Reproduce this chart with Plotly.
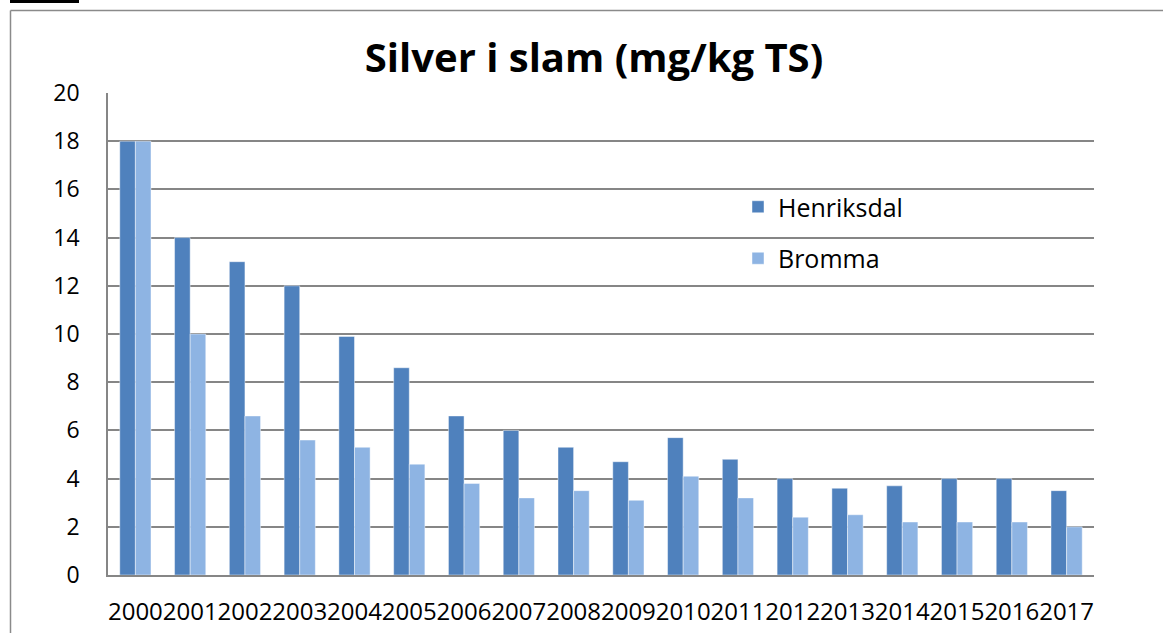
import plotly.graph_objects as go

years = [str(y) for y in range(2000, 2018)]
henriksdal = [18, 14, 13, 12, 9.9, 8.6, 6.6, 6.0, 5.3, 4.7, 5.7, 4.8, 4.0, 3.6, 3.7, 4.0, 4.0, 3.5]
bromma = [18, 10, 6.6, 5.6, 5.3, 4.6, 3.8, 3.2, 3.5, 3.1, 4.1, 3.2, 2.4, 2.5, 2.2, 2.2, 2.2, 2.0]
y_ticks = [0, 2, 4, 6, 8, 10, 12, 14, 16, 18, 20]

W, H = 1163, 633
ML, MR, MT, MB = 108, 69, 93, 58
PW = W - ML - MR
PH = H - MT - MB

FONT = "Open Sans"

fig = go.Figure()
fig.add_trace(go.Bar(x=years, y=henriksdal, name="Henriksdal",
                     marker=dict(color="#4F81BD", line=dict(color="rgba(255,255,255,0.45)", width=1)),
                     legendgroup="a"))
fig.add_trace(go.Bar(x=years, y=bromma, name="Bromma",
                     marker=dict(color="#8EB4E3", line=dict(color="rgba(255,255,255,0.45)", width=1)),
                     legendgroup="b"))

def px_to_paper_x(px):
    return (px - ML) / PW

def px_to_paper_y(py):
    return (H - MB - py) / PH

shapes = [
    # chart area border (left and top)
    dict(type="line", xref="paper", yref="paper",
         x0=px_to_paper_x(10.5), x1=px_to_paper_x(10.5), y0=px_to_paper_y(10.5), y1=px_to_paper_y(640),
         line=dict(color="#8a8a8a", width=1.5)),
    dict(type="line", xref="paper", yref="paper",
         x0=px_to_paper_x(10.5), x1=px_to_paper_x(1170), y0=px_to_paper_y(10.5), y1=px_to_paper_y(10.5),
         line=dict(color="#8a8a8a", width=1.5)),
    # small black line top-left
    dict(type="rect", xref="paper", yref="paper",
         x0=px_to_paper_x(10), x1=px_to_paper_x(79), y0=px_to_paper_y(0), y1=px_to_paper_y(3),
         fillcolor="black", line=dict(width=0)),
]

fig.update_layout(
    width=W, height=H,
    margin=dict(l=ML, r=MR, t=MT, b=MB, autoexpand=False),
    paper_bgcolor="white", plot_bgcolor="white",
    barmode="group", bargap=0.43, bargroupgap=0,
    font=dict(family=FONT, size=22, color="black"),
    title=dict(text="<b>Silver i slam (mg/kg TS)</b>", font=dict(family=FONT, size=40, color="black"),
               x=px_to_paper_x(594), xref="paper", xanchor="center",
               y=1 - 58 / H, yref="container", yanchor="middle"),
    legend=dict(x=px_to_paper_x(738), y=px_to_paper_y(184), xanchor="left", yanchor="top",
                bgcolor="rgba(0,0,0,0)", font=dict(family=FONT, size=25),
                tracegroupgap=16, traceorder="grouped"),
    shapes=shapes,
    showlegend=True,
)
fig.update_yaxes(range=[0, 20], tickvals=y_ticks, showgrid=True, gridcolor="#868686", gridwidth=1.6,
                 showline=True, linecolor="#868686", linewidth=1.6, ticks="", zeroline=False,
                 ticklabelstandoff=22, tickfont=dict(size=23), fixedrange=True, automargin=False)
fig.update_xaxes(type="category", tickangle=0, showline=True, linecolor="#868686", linewidth=1.6,
                 ticks="", showgrid=False, ticklabelstandoff=14, tickfont=dict(size=24), fixedrange=True,
                 automargin=False)

fig.write_html("out.html", config={"displayModeBar": False},
               post_script="document.body.style.margin='0';")
